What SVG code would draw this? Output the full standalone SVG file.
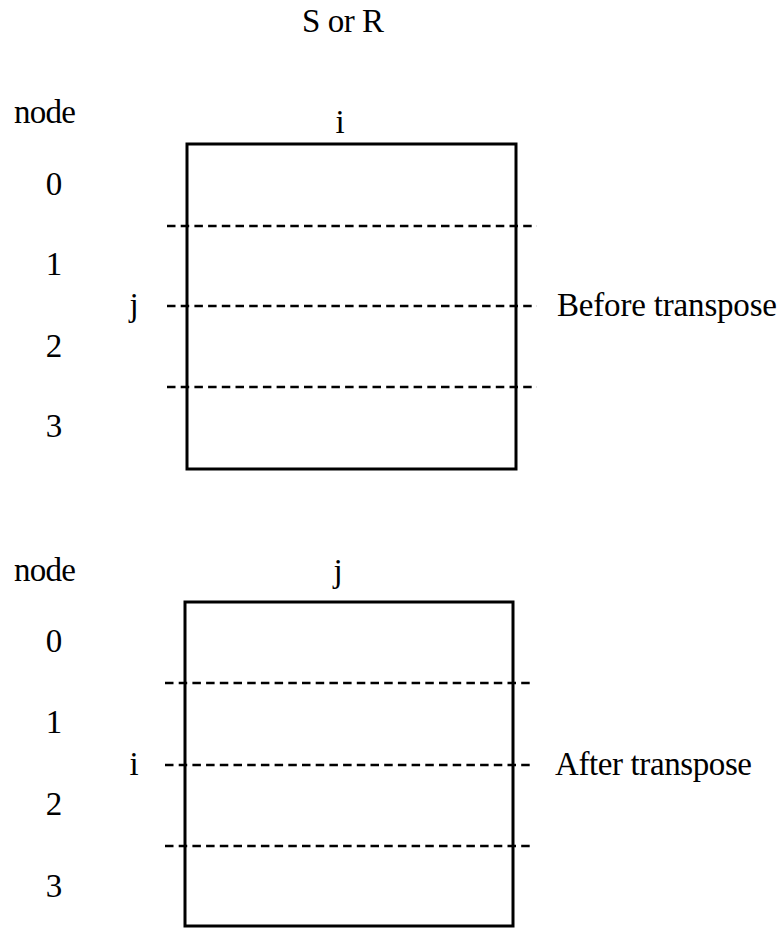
<svg xmlns="http://www.w3.org/2000/svg" width="781" height="928" viewBox="0 0 781 928">
  <style>
    text { font-family: "Liberation Serif", "Times New Roman", serif; font-size: 33px; fill: #000; }
    .mid { text-anchor: middle; }
    .box { fill: none; stroke: #000; stroke-width: 3; }
    .cut { fill: none; stroke: #000; stroke-width: 2.3; stroke-dasharray: 8.5 5.2; }
  </style>
  <rect width="781" height="928" fill="#fff"/>

  <text id="title" class="mid" x="343" y="32" textLength="82">S or R</text>

  <!-- Matrix before transpose: rows i distributed over nodes 0..3 -->
  <g id="before">
    <text x="14" y="123" textLength="62">node</text>
    <text class="mid" x="340" y="133">i</text>
    <rect class="box" x="187" y="144" width="329" height="325"/>
    <text class="mid" x="54" y="195">0</text>
    <text class="mid" x="54" y="275">1</text>
    <text class="mid" x="54" y="357">2</text>
    <text class="mid" x="54" y="437">3</text>
    <text class="mid" x="134" y="316">j</text>
    <text x="557" y="316" textLength="220">Before transpose</text>
  </g>

  <!-- Matrix after transpose -->
  <g id="after">
    <text x="14" y="581" textLength="62">node</text>
    <text class="mid" x="338" y="582">j</text>
    <rect class="box" x="185" y="602" width="328" height="324"/>
    <text class="mid" x="54" y="652">0</text>
    <text class="mid" x="54" y="733">1</text>
    <text class="mid" x="54" y="815">2</text>
    <text class="mid" x="54" y="897">3</text>
    <text class="mid" x="134" y="775">i</text>
    <text x="555" y="775" textLength="197">After transpose</text>
  </g>

  <!-- Partition boundaries between nodes -->
  <g id="connectors">
    <line class="cut" x1="167" y1="226" x2="537" y2="226"/>
    <line class="cut" x1="167" y1="306" x2="537" y2="306"/>
    <line class="cut" x1="167" y1="387" x2="537" y2="387"/>
    <line class="cut" x1="165" y1="683" x2="534" y2="683"/>
    <line class="cut" x1="165" y1="765" x2="534" y2="765"/>
    <line class="cut" x1="165" y1="846" x2="534" y2="846"/>
  </g>
</svg>
